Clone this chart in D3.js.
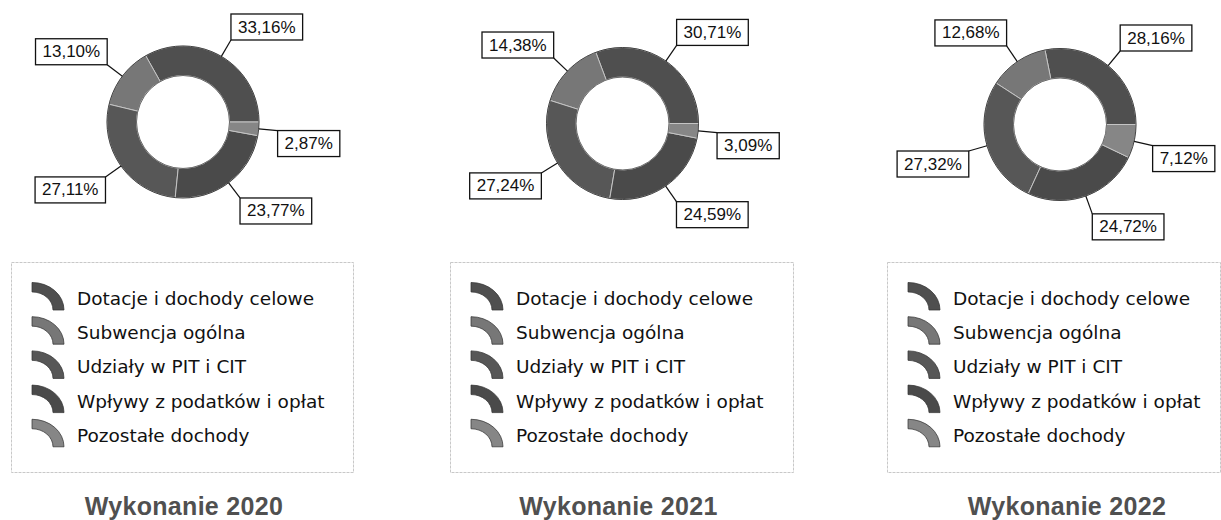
<!DOCTYPE html>
<html>
<head>
<meta charset="utf-8">
<script src="https://cdn.jsdelivr.net/npm/d3@7"></script>
<style>
  html, body { margin: 0; padding: 0; background: #fff; }
  svg { display: block; }
</style>
</head>
<body>
<svg id="chart" width="1221" height="520"></svg>
<script>
// ---- data ----
const categories = ["Dotacje i dochody celowe", "Subwencja ogólna", "Udziały w PIT i CIT", "Wpływy z podatków i opłat", "Pozostałe dochody"];
const titles = ["Wykonanie 2020", "Wykonanie 2021", "Wykonanie 2022"];
const values2020 = [33.16, 13.10, 27.11, 23.77, 2.87];
const values2021 = [30.71, 14.38, 27.24, 24.59, 3.09];
const values2022 = [28.16, 12.68, 27.32, 24.72, 7.12];
const series = [values2020, values2021, values2022];

// ---- styles / layout ----
const colors = ["#4f4f4f", "#777777", "#575757", "#4a4a4a", "#868686"];
const panels = [
  { cx: 183,   cy: 122,   lx: 11,  lw: 342, tx: 184 },
  { cx: 622.5, cy: 123.5, lx: 450, lw: 343, tx: 618.5 },
  { cx: 1060,  cy: 124.5, lx: 887, lw: 333, tx: 1067 }
];
const outerR = 76, innerR = 46.5, labelR = 95;

const svg = d3.select("#chart");
const color = d3.scaleOrdinal().domain(categories).range(colors);
const pie = d3.pie().sort(null).value(d => d.value)
  .startAngle(Math.PI / 2).endAngle(Math.PI / 2 - 2 * Math.PI);
const arc = d3.arc().innerRadius(innerR).outerRadius(outerR);
const fmt = v => v.toFixed(2).replace(".", ",") + "%";

series.forEach((vals, pi) => {
  const P = panels[pi];
  const data = vals.map((v, i) => ({ cat: categories[i], value: v }));
  const arcs = pie(data);

  const g = svg.append("g").attr("transform", `translate(${P.cx},${P.cy})`);
  g.selectAll("path.slice").data(arcs).enter().append("path")
    .attr("class", "slice")
    .attr("d", arc)
    .attr("fill", d => color(d.data.cat))
    .attr("stroke", "#c4c4c4")
    .attr("stroke-width", 1);
  g.append("circle").attr("r", outerR).attr("fill", "none").attr("stroke", "#333").attr("stroke-width", 0.9);
  g.append("circle").attr("r", innerR).attr("fill", "none").attr("stroke", "#444").attr("stroke-width", 0.7);

  // labels
  arcs.forEach(d => {
    const a = (d.startAngle + d.endAngle) / 2;
    const sx = Math.sin(a), cy = -Math.cos(a);
    const p0 = [sx * outerR, cy * outerR];
    const p1 = [sx * labelR, cy * labelR];
    g.append("line")
      .attr("x1", p0[0]).attr("y1", p0[1]).attr("x2", p1[0]).attr("y2", p1[1])
      .attr("stroke", "#111").attr("stroke-width", 1.2);
    const lg = g.append("g");
    const t = lg.append("text")
      .attr("font-family", "Liberation Sans, Arial, sans-serif")
      .attr("font-size", 17)
      .attr("fill", "#111")
      .text(fmt(d.data.value));
    const tw = t.node().getComputedTextLength();
    const w = tw + 14, h = 26;
    const bx = sx > 0 ? p1[0] : p1[0] - w;
    const by = Math.cos(a) > 0 ? p1[1] - h : p1[1];
    lg.insert("rect", "text")
      .attr("x", bx).attr("y", by).attr("width", w).attr("height", h)
      .attr("fill", "#fff").attr("stroke", "#111").attr("stroke-width", 1.3);
    t.attr("x", bx + 7).attr("y", by + 18.5);
  });

  // legend
  const leg = svg.append("g").attr("transform", `translate(${P.lx},262)`);
  leg.append("rect").attr("x", 0.5).attr("y", 0.5).attr("width", P.lw).attr("height", 210)
    .attr("fill", "#fff").attr("stroke", "#c8c8c8").attr("stroke-width", 1)
    .attr("stroke-dasharray", "3,1");
  const iconArc = d3.arc().innerRadius(21).outerRadius(32).startAngle(0).endAngle(Math.PI / 2);
  categories.forEach((c, i) => {
    const base = 43 + i * 34.2;
    leg.append("path")
      .attr("d", iconArc())
      .attr("transform", `translate(21,${base + 5}) scale(1,0.86)`)
      .attr("fill", color(c)).attr("stroke", "#333").attr("stroke-width", 0.8);
    leg.append("text")
      .attr("x", 66).attr("y", base)
      .attr("font-family", "DejaVu Sans, Verdana, sans-serif")
      .attr("font-size", 18.5)
      .attr("fill", "#111")
      .text(c);
  });

  // title
  svg.append("text")
    .attr("x", P.tx).attr("y", 515)
    .attr("text-anchor", "middle")
    .attr("font-family", "Liberation Sans, Arial, sans-serif")
    .attr("font-weight", "bold")
    .attr("font-size", 25)
    .attr("letter-spacing", 0.3)
    .attr("fill", "#505050")
    .text(titles[pi]);
});
</script>
</body>
</html>
